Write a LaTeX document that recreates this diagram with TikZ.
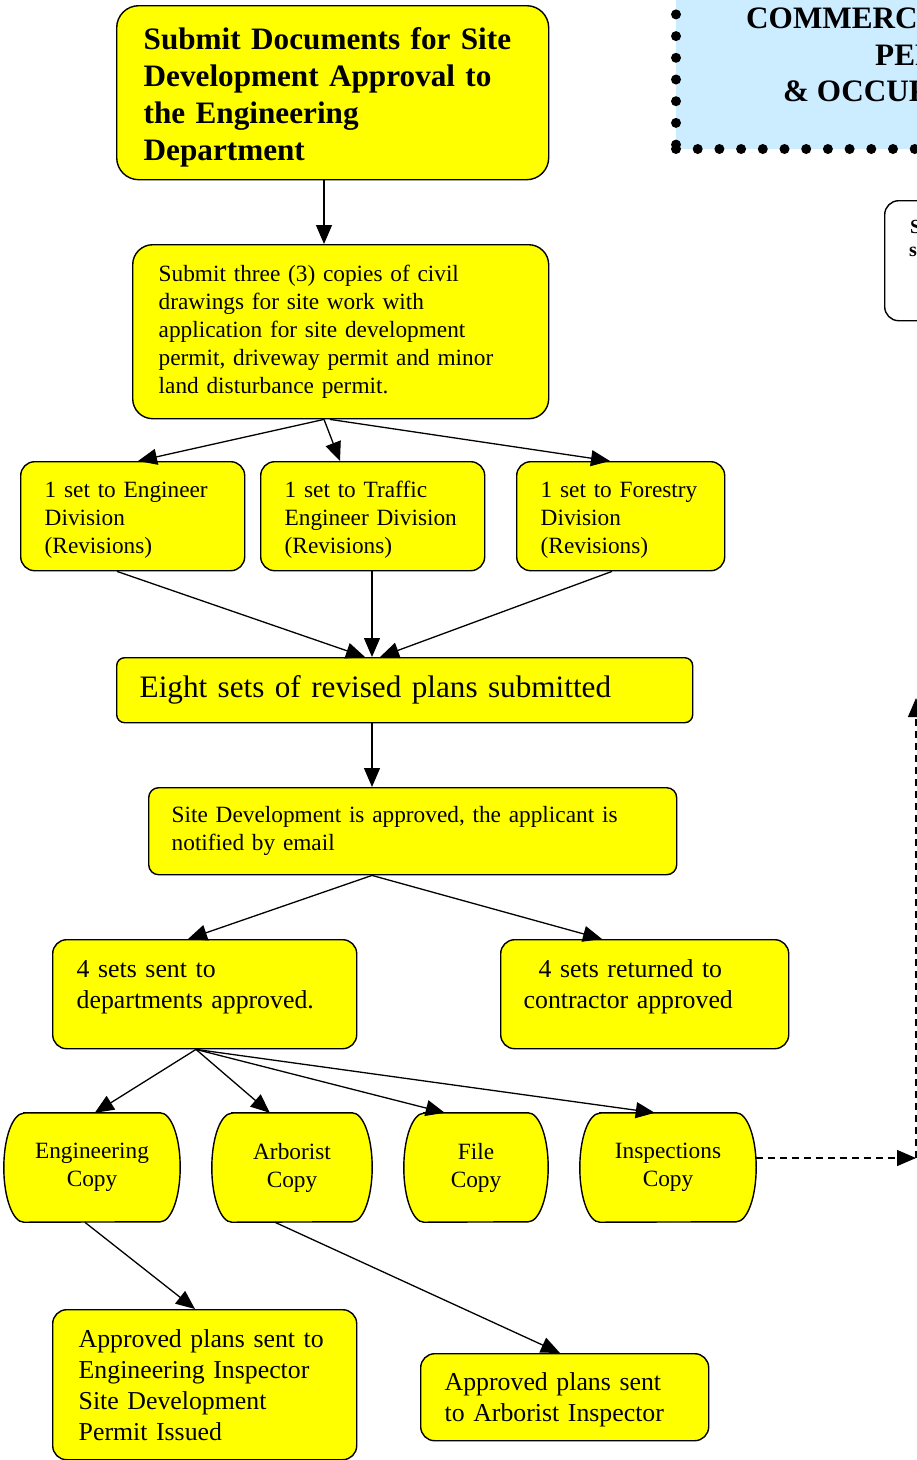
\documentclass[tikz,border=0pt]{standalone}
\usepackage{fontspec}
\setmainfont{Liberation Serif}
\usetikzlibrary{arrows.meta,backgrounds}
\definecolor{lightblue}{RGB}{204,236,255}
\definecolor{boxyellow}{RGB}{255,255,0}
\newcommand\nbl[1]{\mbox{#1}}
\begin{document}
\begin{tikzpicture}[x=1pt,y=-1pt,
  ybox/.style={draw, fill=boxyellow, line width=1.4pt, rounded corners=14pt, anchor=north west, align=left, inner ysep=0pt},
  f24/.style={font=\fontsize{23.3}{28}\selectfont},
  f26/.style={font=\fontsize{25.8}{31}\selectfont},
  f32/.style={font=\fontsize{31.2}{37}\selectfont},
  f32b/.style={font=\fontsize{31.2}{37}\selectfont\bfseries},
  arr/.style={line width=1.3pt, -{Triangle[length=19pt,width=16pt]}},
  darr/.style={arr, dash pattern=on 7pt off 5pt},
  copynode/.style={anchor=center, align=center, inner sep=0pt, minimum height=109pt, f24},
  copyshape/.style={draw, fill=boxyellow, line width=1.4pt},
  commbox/.style={fill=lightblue, draw, line width=10pt, line cap=round, dash pattern=on 0pt off 21.7pt, anchor=south west, outer sep=0pt},
]
\useasboundingbox (0,0) rectangle (917,1460);
\clip (0,0) rectangle (917,1460);

% top-right boxes (cut by the picture's edge, as in the reference)
\node[commbox, minimum width=420pt, minimum height=320pt] (comm) at (676,149) {};
\node[anchor=base west, inner sep=0pt, f32b] (comm1) at (746,28) {COMMERCIAL};
\node[anchor=base west, inner sep=0pt, f32b] (comm2) at (875,65) {PERMIT};
\node[anchor=base west, inner sep=0pt, f32b] (comm3) at (783,101) {\&~OCCUPANCY};

\node[draw, fill=white, line width=1.4pt, rounded corners=14pt, anchor=north west, minimum width=120pt, minimum height=120pt] (side) at (884,200) {};
\node[anchor=base west, inner sep=0pt, font=\fontsize{20}{23}\selectfont\bfseries] (side1) at (910,233) {S};
\node[anchor=base west, inner sep=0pt, font=\fontsize{20}{23}\selectfont\bfseries] (side2) at (909,256) {s};

% main flow
\node[ybox, f32b, rounded corners=22pt, text width=378pt, inner xsep=27pt, minimum height=174pt] (title) at (116,5)
  {\rule{0pt}{31pt}Submit Documents for Site\\Development Approval to\\the Engineering\\Department};

\node[ybox, f24, rounded corners=20pt, text width=364pt, inner xsep=26pt, minimum height=174pt] (box2) at (132,244)
  {\nbl{Submit three (3) copies of civil}\\\nbl{drawings for site work with}\\\nbl{application for site development}\\\nbl{permit, driveway permit and minor}\\\nbl{land disturbance permit.}};

\node[ybox, f24, text width=176pt, inner xsep=24pt, minimum height=109pt] (enga) at (20,461)
  {\rule{0pt}{24pt}\nbl{1 set to Engineer}\\Division\\(Revisions)};
\node[ybox, f24, text width=176pt, inner xsep=24pt, minimum height=109pt] (trafb) at (260,461)
  {\rule{0pt}{24pt}\nbl{1 set to Traffic}\\\nbl{Engineer Division}\\(Revisions)};
\node[ybox, f24, text width=160pt, inner xsep=24pt, minimum height=109pt] (forc) at (516,461)
  {\rule{0pt}{24pt}\nbl{1 set to Forestry}\\Division\\(Revisions)};

\node[ybox, f32, rounded corners=8pt, text width=530pt, inner xsep=23pt, minimum height=65pt] (eight) at (116,657)
  {Eight sets of revised plans submitted};

\node[ybox, f24, rounded corners=10pt, text width=482pt, inner xsep=23pt, minimum height=87pt] (sitedev) at (148,787)
  {\nbl{Site Development is approved, the applicant is}\\notified by email};

\node[ybox, f26, text width=256pt, inner xsep=24pt, minimum height=109pt] (sent) at (52,939)
  {4 sets sent to\\\nbl{departments approved.}\rule[-20pt]{0pt}{0pt}};
\node[ybox, f26, text width=242pt, inner xsep=23pt, minimum height=109pt] (ret) at (500,939)
  {\hspace*{15pt}4 sets returned to\\\nbl{contractor approved}\rule[-20pt]{0pt}{0pt}};

% copy nodes
\node[copynode, minimum width=136pt] (eng) at (92,1167.5) {Engineering\\Copy};
\node[copynode, minimum width=120pt] (arb) at (292,1167.5) {Arborist\\Copy};
\node[copynode, minimum width=104pt] (file) at (476,1167.5) {File\\Copy};
\node[copynode, minimum width=136pt] (insp) at (668,1167.5) {Inspections\\Copy};
\begin{scope}[on background layer]
\foreach \n in {eng,arb,file,insp}{
  \path[copyshape] (\n.north west) -- (\n.north east)
    arc[start angle=90, end angle=-90, x radius=20pt, y radius=54.5pt]
    -- (\n.south west)
    arc[start angle=270, end angle=90, x radius=20pt, y radius=54.5pt] -- cycle;
}
\end{scope}

\node[ybox, f26, text width=252pt, inner xsep=26pt, minimum height=150pt] (appeng) at (52,1309)
  {Approved plans sent to\\Engineering Inspector\\Site Development\\Permit Issued};
\node[ybox, f26, text width=240pt, inner xsep=24pt, minimum height=87pt] (apparb) at (420,1353)
  {\rule{0pt}{24pt}Approved plans sent\\\nbl{to Arborist Inspector}};

% connectors
\draw[arr] ([xshift=208pt]title.south west) -- ([xshift=192pt]box2.north west);
\draw[arr] ([xshift=192pt]box2.south west) -- ([xshift=118pt]enga.north west);
\draw[arr] ([xshift=192pt]box2.south west) -- ([xshift=80pt]trafb.north west);
\draw[arr] ([xshift=198pt]box2.south west) -- ([xshift=94pt]forc.north west);
\draw[arr] ([xshift=97pt]enga.south west) -- ([xshift=249pt]eight.north west);
\draw[arr] ([xshift=112pt]trafb.south west) -- ([xshift=256pt]eight.north west);
\draw[arr] ([xshift=96pt]forc.south west) -- ([xshift=264pt]eight.north west);
\draw[arr] ([xshift=256pt]eight.south west) -- ([xshift=224pt]sitedev.north west);
\draw[arr] ([xshift=224pt]sitedev.south west) -- ([xshift=136pt]sent.north west);
\draw[arr] ([xshift=224pt]sitedev.south west) -- ([xshift=102pt]ret.north west);
\draw[arr] ([xshift=144pt]sent.south west) -- ([xshift=71pt]eng.north west);
\draw[arr] ([xshift=144pt]sent.south west) -- ([xshift=38pt]arb.north west);
\draw[arr] ([xshift=144pt]sent.south west) -- ([xshift=21pt]file.north west);
\draw[arr] ([xshift=144pt]sent.south west) -- ([xshift=55pt]insp.north west);
\draw[arr] ([xshift=61pt]eng.south west) -- ([xshift=143pt]appeng.north west);
\draw[arr] ([xshift=43pt]arb.south west) -- ([xshift=140pt]apparb.north west);

\coordinate (corner) at (916,1158);
\coordinate (uptop) at (916,698);
\draw[darr] ([xshift=20pt,yshift=9.5pt]insp.east) -- (corner);
\draw[darr] (corner) -- (uptop);
\end{tikzpicture}
\end{document}
